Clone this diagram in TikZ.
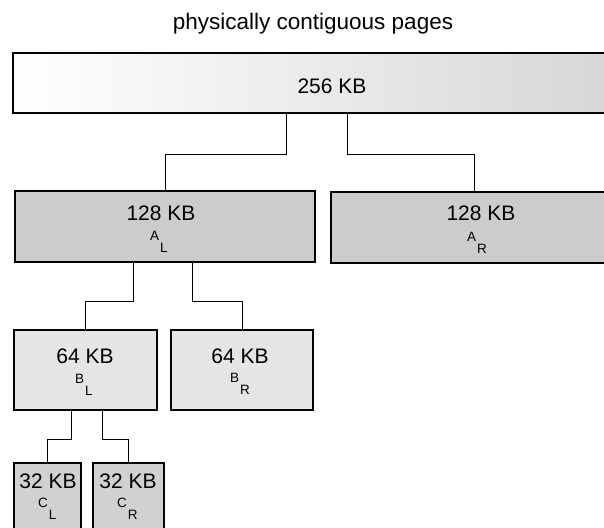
\documentclass[tikz,border=0pt]{standalone}
\usepackage{fontspec}
\setmainfont{Liberation Sans}
\newcommand{\Sub}[2]{#1\kern1pt\raisebox{-12pt}{#2}}

\begin{document}
\begin{tikzpicture}[
    x=1pt, y=-1pt,
    blockbox/.style={draw, line width=1.1pt, inner sep=0pt},
    sizelab/.style={font=\fontsize{21}{21}\selectfont, anchor=base, inner sep=0pt},
    namelab/.style={font=\fontsize{13.5}{13.5}\selectfont, anchor=base west, inner sep=0pt},
    link/.style={line width=0.8pt}
]
\useasboundingbox (0,0) rectangle (604,527);
\clip (0,0) rectangle (604,527);

\node[font=\fontsize{22.5}{22.5}\selectfont, anchor=base] (title) at (313,30)
    {physically contiguous pages};

% blocks
\node[blockbox, left color=white, right color=black!16,
    minimum width=607pt, minimum height=60pt] (full) at (316.5,83) {};
\node[blockbox, fill=black!20, minimum width=300pt, minimum height=71pt] (al) at (165,226.5) {};
\node[blockbox, fill=black!20, minimum width=286pt, minimum height=71pt] (ar) at (474,227.5) {};
\node[blockbox, fill=black!10, minimum width=143pt, minimum height=80pt] (bl) at (85.5,370) {};
\node[blockbox, fill=black!10, minimum width=142pt, minimum height=80pt] (br) at (242,370) {};
\node[blockbox, fill=black!18, minimum width=67pt, minimum height=97pt] (cl) at (47.5,511.5) {};
\node[blockbox, fill=black!18, minimum width=71pt, minimum height=97pt] (cr) at (128.5,511.5) {};

% sizes and names
\node[sizelab] (fullsize) at (332,93) {256 KB};
\node[sizelab] (alsize) at (161,220) {128 KB};
\node[sizelab] (arsize) at (481,220) {128 KB};
\node[sizelab] (blsize) at (85,363) {64 KB};
\node[sizelab] (brsize) at (240,363) {64 KB};
\node[sizelab] (clsize) at (48,488) {32 KB};
\node[sizelab] (crsize) at (128,488) {32 KB};

\node[namelab] (alname) at (150,240) {\Sub{A}{L}};
\node[namelab] (arname) at (467,241) {\Sub{A}{R}};
\node[namelab] (blname) at (75,383) {\Sub{B}{L}};
\node[namelab] (brname) at (230,382) {\Sub{B}{R}};
\node[namelab] (clname) at (38,507) {\Sub{C}{L}};
\node[namelab] (crname) at (117,507) {\Sub{C}{R}};

% splits
\draw[link] ([xshift=-30.5pt]full.south) -- ++(0,41) -| (al.north);
\draw[link] ([xshift=30.5pt]full.south) -- ++(0,41) -| (ar.north);
\draw[link] ([xshift=-32pt]al.south) -- ++(0,39) -| (bl.north);
\draw[link] ([xshift=27pt]al.south) -- ++(0,39) -| (br.north);
\draw[link] ([xshift=-14.5pt]bl.south) -- ++(0,29) -| (cl.north);
\draw[link] ([xshift=16.5pt]bl.south) -- ++(0,29) -| (cr.north);
\end{tikzpicture}
\end{document}
